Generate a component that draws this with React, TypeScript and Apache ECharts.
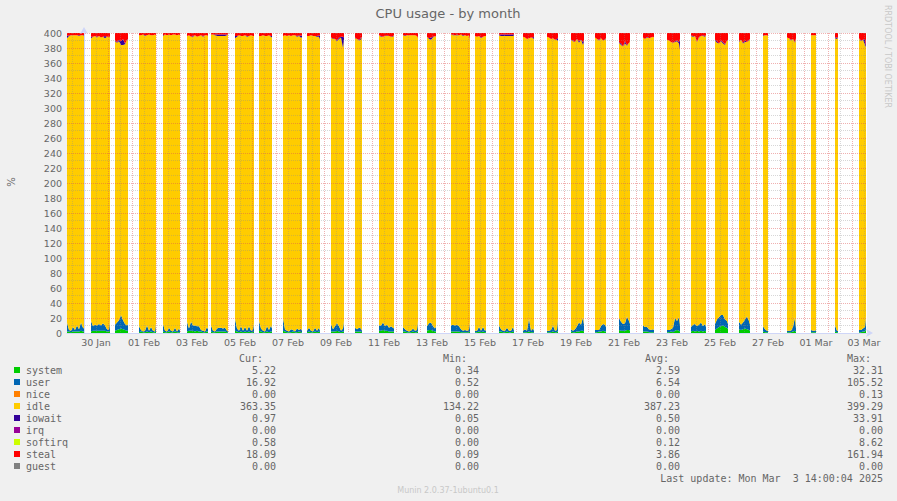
import React, { useEffect, useRef } from 'react';
import * as echarts from 'echarts';

// Hours relative to 30 Jan 2025 00:00 (local time of the graph)
const barStarts = [-17, 7, 31, 55, 79, 103, 127, 151, 175, 199, 223, 247, 271, 295, 319, 343, 367, 391, 415, 439, 463, 487, 511, 535, 559, 583, 607, 631, 655, 679, 703, 727, 751, 775];
const barLengths = [17, 19, 13, 17, 17, 21, 17, 19, 13, 19, 13, 13, 7, 15, 15, 9, 19, 11, 15, 11, 11, 13, 11, 11, 11, 13, 15, 13, 11, 5, 9, 5, 3, 7];

const systemVals = [
  [2, 2, 1, 2, 2, 2, 2, 3, 2, 2], [2, 3, 3, 3, 3, 3, 3, 3, 2, 2, 3], [3, 4, 5, 6, 5, 4, 3, 3], [1, 2, 1, 1, 2, 1, 2, 1, 1, 2],
  [2, 1, 1, 2, 1, 1, 2, 1, 1, 1], [2, 3, 3, 3, 2, 3, 2, 2, 1, 1, 2, 2], [2, 1, 1, 2, 2, 2, 2, 2, 1, 1], [3, 2, 1, 2, 1, 2, 1, 2, 1, 1, 2],
  [3, 2, 1, 1, 2, 1, 2, 2], [3, 2, 1, 1, 1, 2, 1, 1, 2, 1, 1], [1, 2, 1, 1, 2, 1, 2, 1], [2, 2, 2, 3, 2, 1, 2, 2],
  [2, 2, 2, 2, 1], [3, 3, 4, 3, 3, 2, 2, 2, 2], [2, 2, 1, 1, 1, 2, 1, 1, 3], [3, 4, 4, 3, 2, 2],
  [2, 2, 2, 2, 2, 1, 1, 1, 1, 1, 2], [1, 1, 2, 1, 2, 1, 1], [2, 2, 1, 1, 2, 1, 1, 2, 1], [1, 1, 1, 2, 1, 1, 1],
  [1, 1, 1, 2, 1, 1, 3], [2, 1, 1, 2, 2, 3, 3, 2], [1, 1, 2, 2, 3, 2, 2], [4, 3, 3, 3, 4, 4, 3],
  [2, 2, 2, 1, 1, 1, 1], [1, 1, 2, 1, 3, 4, 3, 2], [2, 3, 2, 3, 2, 3, 2, 3, 2], [4, 6, 8, 9, 10, 8, 7, 5],
  [5, 4, 5, 6, 5, 4, 3], [2, 1, 1, 1], [1, 1, 1, 2, 3, 1], [1, 1, 1, 1], [2, 1, 1], [1, 1, 2, 2, 5],
];
const userVals = [
  [12, 2, 2, 6, 2, 8, 3, 11, 5, 4], [14, 6, 8, 7, 9, 7, 10, 7, 3, 2, 13], [8, 10, 12, 18, 12, 8, 7, 9], [8, 2, 1, 2, 8, 2, 6, 2, 1, 11],
  [10, 2, 1, 5, 2, 1, 5, 1, 5, 2], [13, 3, 12, 7, 8, 6, 7, 2, 2, 1, 6, 3], [8, 2, 1, 4, 5, 5, 4, 5, 2, 1], [16, 4, 2, 7, 2, 6, 2, 7, 2, 3, 11],
  [13, 4, 2, 1, 7, 3, 8, 4], [17, 3, 2, 1, 4, 2, 1, 5, 2, 5, 2], [2, 5, 2, 1, 5, 2, 5, 2], [10, 3, 7, 10, 7, 2, 4, 14],
  [5, 3, 5, 4, 2], [7, 7, 10, 6, 8, 5, 7, 5, 4], [6, 3, 2, 1, 2, 4, 2, 3, 13], [6, 9, 10, 6, 4, 7],
  [8, 9, 8, 9, 7, 4, 2, 3, 2, 3, 13], [2, 2, 6, 2, 6, 2, 3], [8, 3, 2, 2, 5, 2, 2, 6, 2], [2, 4, 2, 17, 2, 5, 2],
  [2, 2, 3, 8, 2, 3, 17], [3, 2, 4, 7, 12, 8, 18, 9], [3, 3, 2, 7, 9, 9, 6], [16, 12, 9, 10, 18, 12, 9],
  [8, 6, 6, 4, 3, 4, 3], [3, 3, 3, 6, 17, 12, 18, 8], [6, 8, 10, 6, 9, 11, 7, 9, 6], [8, 12, 13, 15, 14, 10, 9, 7],
  [10, 7, 9, 12, 17, 12, 8], [7, 4, 2, 2], [2, 2, 2, 6, 18, 5], [3, 2, 2, 3], [8, 2, 2], [3, 3, 4, 6, 17],
];
const idleVals = [
  [379, 392, 394, 389, 393, 387, 391, 383, 390, 390], [377, 386, 385, 384, 384, 384, 382, 383, 390, 391, 378], [378, 373, 372, 360, 367, 373, 381, 379], [388, 393, 396, 393, 387, 395, 389, 394, 396, 384],
  [384, 395, 395, 391, 394, 396, 391, 395, 392, 394], [381, 391, 380, 385, 387, 386, 387, 393, 392, 395, 389, 391], [388, 395, 395, 390, 389, 389, 390, 389, 394, 396], [374, 389, 394, 387, 393, 389, 392, 387, 394, 392, 383],
  [380, 390, 394, 394, 387, 393, 385, 388], [376, 392, 393, 395, 391, 393, 395, 389, 392, 388, 391], [393, 389, 394, 394, 389, 392, 388, 388], [382, 387, 383, 376, 383, 391, 374, 376],
  [386, 387, 383, 385, 392], [387, 385, 381, 387, 385, 389, 386, 388, 391], [389, 391, 394, 395, 394, 391, 394, 392, 377], [386, 379, 377, 385, 390, 386],
  [388, 386, 387, 386, 388, 393, 393, 393, 393, 393, 376], [393, 392, 388, 390, 387, 393, 392], [387, 391, 393, 393, 389, 393, 393, 388, 394], [392, 389, 389, 374, 391, 387, 389],
  [392, 391, 388, 383, 388, 387, 369], [386, 386, 383, 383, 373, 380, 363, 378], [390, 388, 386, 384, 378, 380, 385], [367, 369, 370, 373, 361, 371, 376],
  [384, 384, 386, 388, 390, 390, 390], [387, 386, 383, 380, 368, 373, 365, 367], [388, 384, 384, 379, 383, 382, 387, 383, 389], [378, 369, 365, 365, 362, 366, 374, 378],
  [373, 380, 372, 370, 366, 374, 381], [387, 392, 394, 393], [391, 390, 387, 384, 366, 387], [393, 394, 394, 393], [383, 389, 391], [389, 385, 385, 376, 359],
];
const iowaitVals = [
  [3, 1, 0, 0, 0, 0, 1, 0, 0, 1], [2, 0, 0, 1, 0, 0, 0, 3, 0, 0, 1], [1, 1, 2, 5, 8, 1, 0, 1], [0, 0, 0, 1, 0, 0, 0, 0, 0, 0],
  [1, 0, 0, 0, 0, 0, 0, 0, 0, 0], [0, 0, 0, 1, 0, 0, 0, 0, 1, 0, 0, 0], [0, 0, 1, 2, 2, 2, 2, 2, 1, 0], [3, 1, 0, 0, 0, 0, 1, 0, 0, 0, 0],
  [0, 0, 0, 0, 0, 0, 1, 2], [0, 0, 0, 0, 0, 0, 0, 1, 1, 2, 3], [0, 0, 0, 0, 0, 1, 2, 5], [0, 1, 0, 1, 2, 1, 15, 2],
  [1, 0, 1, 2, 0], [0, 1, 0, 0, 1, 0, 0, 1, 0], [0, 1, 0, 0, 0, 0, 0, 0, 0], [0, 1, 3, 1, 0, 0],
  [0, 1, 0, 1, 0, 0, 1, 0, 0, 0, 1], [0, 0, 0, 1, 0, 0, 0], [1, 2, 2, 2, 2, 2, 2, 2, 1], [0, 0, 0, 0, 0, 1, 3],
  [0, 0, 0, 0, 0, 1, 5], [0, 1, 0, 0, 2, 0, 4, 1], [0, 0, 1, 0, 0, 1, 0], [1, 2, 0, 3, 1, 0, 1],
  [0, 0, 1, 0, 0, 0, 0], [0, 0, 0, 0, 1, 1, 2, 15], [1, 1, 0, 0, 1, 0, 1, 1, 0], [1, 2, 0, 1, 2, 1, 0, 1],
  [1, 0, 1, 2, 0, 1, 0], [1, 0, 0, 0], [0, 0, 1, 0, 1, 0], [0, 0, 0, 0], [1, 2, 0], [0, 1, 0, 8, 1],
];
const stealVals = [
  [4, 3, 3, 3, 3, 3, 3, 3, 3, 3], [5, 5, 4, 5, 4, 6, 5, 4, 5, 5, 5], [10, 12, 9, 11, 8, 14, 9, 8], [3, 3, 2, 3, 3, 2, 3, 3, 2, 3],
  [3, 2, 3, 2, 3, 2, 2, 3, 2, 3], [4, 3, 5, 4, 3, 5, 4, 3, 4, 3, 3, 4], [2, 2, 2, 2, 2, 2, 2, 2, 2, 2], [4, 4, 3, 4, 4, 3, 4, 4, 3, 4, 4],
  [4, 4, 3, 4, 4, 3, 4, 4], [4, 3, 4, 3, 4, 3, 3, 4, 3, 4, 3], [4, 4, 3, 4, 4, 4, 3, 4], [6, 7, 8, 10, 6, 5, 5, 6],
  [6, 8, 9, 7, 5], [3, 4, 5, 4, 3, 4, 5, 4, 3], [3, 3, 3, 3, 3, 3, 3, 4, 7], [5, 7, 6, 5, 4, 5],
  [2, 2, 3, 2, 3, 2, 3, 3, 4, 3, 8], [4, 5, 4, 6, 5, 4, 4], [2, 2, 2, 2, 2, 2, 2, 2, 2], [5, 6, 8, 7, 6, 6, 5],
  [5, 6, 8, 7, 9, 8, 6], [9, 10, 12, 8, 11, 9, 12, 10], [6, 8, 9, 7, 10, 8, 7], [12, 14, 18, 11, 16, 13, 11],
  [6, 8, 5, 7, 6, 5, 6], [9, 10, 12, 13, 11, 10, 12, 8], [3, 4, 4, 12, 5, 4, 3, 4, 3], [9, 11, 14, 10, 12, 15, 10, 9],
  [11, 9, 13, 10, 12, 9, 8], [3, 3, 3, 4], [6, 7, 9, 8, 12, 7], [3, 3, 3, 3], [6, 6, 6], [7, 10, 9, 8, 18],
];

const xTickLabels = ['30 Jan', '01 Feb', '03 Feb', '05 Feb', '07 Feb', '09 Feb', '11 Feb', '13 Feb', '15 Feb', '17 Feb', '19 Feb', '21 Feb', '23 Feb', '25 Feb', '27 Feb', '01 Mar', '03 Mar'];

const legendNames = ['system', 'user', 'nice', 'idle', 'iowait', 'irq', 'softirq', 'steal', 'guest'];
const legendColors = ['#00CC00', '#0066B3', '#FF8000', '#FFCC00', '#330099', '#990099', '#CCFF00', '#FF0000', '#808080'];
const curVals = ['5.22', '16.92', '0.00', '363.35', '0.97', '0.00', '0.58', '18.09', '0.00'];
const minVals = ['0.34', '0.52', '0.00', '134.22', '0.05', '0.00', '0.00', '0.09', '0.00'];
const avgVals = ['2.59', '6.54', '0.00', '387.23', '0.50', '0.00', '0.12', '3.86', '0.00'];
const maxVals = ['32.31', '105.52', '0.13', '399.29', '33.91', '0.00', '8.62', '161.94', '0.00'];

const X_MIN = -17;
const X_MAX = 783;

// Each bar: samples every 2 h; between bars nothing is stacked (no data -> empty canvas).
// Items are [value, hour] so that the value (first dimension) is the stacked one.
function buildSeries(vals: number[][]) {
  const out: number[][] = [];
  barStarts.forEach((start, b) => {
    const len = barLengths[b];
    const offs: number[] = [];
    for (let o = 0; o < len; o += 2) offs.push(o);
    offs.push(len);
    out.push([0, start - 0.02]);
    offs.forEach((o, i) => out.push([vals[b][i], start + o]));
    out.push([0, start + len + 0.02]);
  });
  return out;
}

const MONO = '"DejaVu Sans Mono", monospace';
const SANS = '"DejaVu Sans", sans-serif';
const FONT_COLOR = '#666666';
const MAJOR = 'rgba(222,79,79,0.45)';
const MINOR = 'rgba(140,140,140,0.35)';

export default function App() {
  const ref = useRef<HTMLDivElement>(null);
  useEffect(() => {
    document.body.style.margin = '0';
    const chart = echarts.init(ref.current!, null, { renderer: 'svg' });

    const midnights: number[] = [];
    for (let h = 0; h <= X_MAX; h += 24) midnights.push(h);
    const noons: number[] = [];
    for (let h = -12; h <= X_MAX; h += 24) noons.push(h);
    const labelPos = xTickLabels.map((_, i) => 12 + 48 * i);

    const stackDefs = [
      { name: 'system', vals: systemVals },
      { name: 'user', vals: userVals },
      { name: 'idle', vals: idleVals },
      { name: 'iowait', vals: iowaitVals },
      { name: 'steal', vals: stealVals },
    ];

    const series = stackDefs.map((d) => ({
      type: 'line',
      name: d.name,
      stack: 'cpu',
      data: buildSeries(d.vals),
      encode: { x: 1, y: 0 },
      symbol: 'none',
      showSymbol: false,
      lineStyle: { width: 0 },
      areaStyle: { color: legendColors[legendNames.indexOf(d.name)], opacity: 1 },
      silent: true,
      z: 2,
      xAxisIndex: 0,
      yAxisIndex: 0,
    }));

    const graphics: any[] = [
      {
        type: 'text', x: 448, y: 13,
        style: { text: 'CPU usage - by month', font: `13px ${SANS}`, fill: FONT_COLOR, textAlign: 'center', textVerticalAlign: 'middle' },
      },
      {
        type: 'text', x: 11, y: 182, rotation: Math.PI / 2,
        style: { text: '%', font: `10px ${SANS}`, fill: FONT_COLOR, textAlign: 'center', textVerticalAlign: 'middle' },
      },
      {
        type: 'text', x: 887, y: 5, rotation: -Math.PI / 2,
        style: { text: 'RRDTOOL / TOBI OETIKER', font: `8px ${SANS}`, fill: '#c8c8c8', textAlign: 'left', textVerticalAlign: 'middle' },
      },
      { type: 'text', x: 263, y: 358, style: { text: 'Cur:', font: `10px ${MONO}`, fill: FONT_COLOR, textAlign: 'right', textVerticalAlign: 'middle' } },
      { type: 'text', x: 467, y: 358, style: { text: 'Min:', font: `10px ${MONO}`, fill: FONT_COLOR, textAlign: 'right', textVerticalAlign: 'middle' } },
      { type: 'text', x: 669, y: 358, style: { text: 'Avg:', font: `10px ${MONO}`, fill: FONT_COLOR, textAlign: 'right', textVerticalAlign: 'middle' } },
      { type: 'text', x: 871, y: 358, style: { text: 'Max:', font: `10px ${MONO}`, fill: FONT_COLOR, textAlign: 'right', textVerticalAlign: 'middle' } },
      { type: 'text', x: 883, y: 478, style: { text: 'Last update: Mon Mar  3 14:00:04 2025', font: `10px ${MONO}`, fill: FONT_COLOR, textAlign: 'right', textVerticalAlign: 'middle' } },
      { type: 'text', x: 448, y: 490, style: { text: 'Munin 2.0.37-1ubuntu0.1', font: `8px ${SANS}`, fill: '#c8c8c8', textAlign: 'center', textVerticalAlign: 'middle' } },
    ];
    legendNames.forEach((name, i) => {
      const y = 370 + 12 * i;
      graphics.push({ type: 'rect', shape: { x: 14, y: y - 3, width: 6, height: 6 }, style: { fill: legendColors[i] } });
      graphics.push({ type: 'text', x: 26, y, style: { text: name, font: `10px ${MONO}`, fill: FONT_COLOR, textAlign: 'left', textVerticalAlign: 'middle' } });
      graphics.push({ type: 'text', x: 276, y, style: { text: curVals[i], font: `10px ${MONO}`, fill: FONT_COLOR, textAlign: 'right', textVerticalAlign: 'middle' } });
      graphics.push({ type: 'text', x: 479, y, style: { text: minVals[i], font: `10px ${MONO}`, fill: FONT_COLOR, textAlign: 'right', textVerticalAlign: 'middle' } });
      graphics.push({ type: 'text', x: 680, y, style: { text: avgVals[i], font: `10px ${MONO}`, fill: FONT_COLOR, textAlign: 'right', textVerticalAlign: 'middle' } });
      graphics.push({ type: 'text', x: 883, y, style: { text: maxVals[i], font: `10px ${MONO}`, fill: FONT_COLOR, textAlign: 'right', textVerticalAlign: 'middle' } });
    });

    const option: any = {
      animation: false,
      backgroundColor: '#F0F0F0',
      grid: { left: 67, top: 33, width: 800, height: 300, show: true, backgroundColor: '#FFFFFF', borderWidth: 0 },
      xAxis: [
        {
          type: 'value', min: X_MIN, max: X_MAX, position: 'bottom', z: 5,
          axisLine: { show: true, lineStyle: { color: '#CFD6F8', width: 1 }, symbol: ['none', 'arrow'], symbolSize: [6, 7], symbolOffset: [0, 6] },
          axisTick: { show: false, customValues: midnights },
          axisLabel: { show: false },
          splitLine: { show: true, lineStyle: { color: MAJOR, type: [1, 1], width: 1 } },
        },
        {
          type: 'value', min: X_MIN, max: X_MAX, position: 'bottom', z: 4,
          axisLine: { show: false },
          axisTick: { show: false, customValues: noons },
          axisLabel: {
            show: true, customValues: labelPos, margin: 4,
            fontSize: 9.5, fontFamily: SANS, color: FONT_COLOR,
            formatter: (v: number) => xTickLabels[Math.round((v - 12) / 48)] ?? '',
          },
          splitLine: { show: true, lineStyle: { color: MINOR, type: [1, 1], width: 1 } },
        },
      ],
      yAxis: {
        type: 'value', min: 0, max: 400, interval: 20, z: 5,
        axisLine: { show: true, lineStyle: { color: '#CFD6F8', width: 1 }, symbol: ['none', 'arrow'], symbolSize: [6, 7], symbolOffset: [0, 6] },
        axisTick: { show: false },
        axisLabel: { margin: 5, fontSize: 9.5, fontFamily: SANS, color: FONT_COLOR },
        splitLine: { show: true, lineStyle: { color: MAJOR, type: [1, 1], width: 1 } },
        minorTick: { show: false, splitNumber: 2 },
        minorSplitLine: { show: true, lineStyle: { color: MINOR, type: [1, 1], width: 1 } },
      },
      series,
      graphic: graphics,
    };
    chart.setOption(option);
    return () => chart.dispose();
  }, []);
  return <div ref={ref} style={{ position: 'absolute', left: 0, top: 0, width: 897, height: 501 }} />;
}
